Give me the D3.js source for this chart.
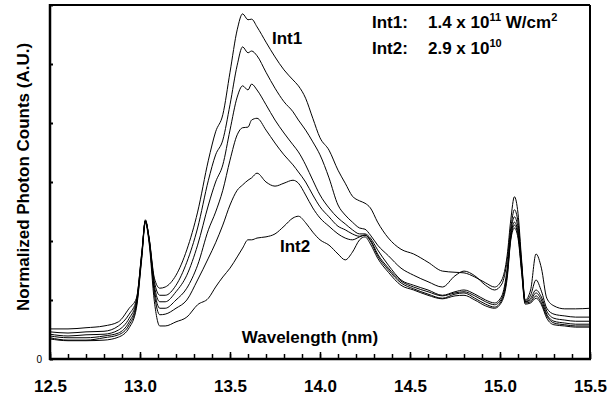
<!DOCTYPE html>
<html>
<head>
<meta charset="utf-8">
<script src="https://cdn.jsdelivr.net/npm/d3@7"></script>
<style>
  body { margin: 0; background: #fff; }
  svg text { font-family: Arial, "Liberation Sans", sans-serif; }
</style>
</head>
<body>
<div id="chart"></div>
<script>
// Wavelength grid (nm), shared by all spectra
const wavelength = [
  12.50, 12.60, 12.70, 12.80, 12.88, 12.94, 12.98, 13.01, 13.03, 13.05,
  13.08, 13.11, 13.14, 13.20, 13.26, 13.32, 13.38, 13.42, 13.46, 13.50,
  13.54, 13.57, 13.60, 13.62, 13.65, 13.70, 13.75, 13.80, 13.85, 13.88,
  13.92, 13.96, 14.00, 14.05, 14.10, 14.14, 14.18, 14.22, 14.25, 14.28,
  14.32, 14.38, 14.45, 14.52, 14.60, 14.68, 14.75, 14.80, 14.86, 14.92,
  14.97, 15.01, 15.04, 15.06, 15.08, 15.10, 15.12, 15.14, 15.17, 15.20,
  15.23, 15.26, 15.30, 15.36, 15.42, 15.50
];

// Normalized photon counts, highest intensity (Int1) to lowest (Int2)
const int1 = [
  0.51, 0.51, 0.53, 0.56, 0.63, 0.86, 1.03, 1.81, 2.36, 2.07,
  1.37, 1.20, 1.22, 1.42, 1.85, 2.49, 3.37, 3.85, 4.14, 4.86,
  5.58, 5.85, 5.75, 5.76, 5.63, 5.37, 5.12, 4.90, 4.73, 4.63,
  4.42, 4.08, 3.75, 3.54, 3.20, 2.98, 2.76, 2.68, 2.64, 2.56,
  2.32, 2.05, 1.86, 1.78, 1.64, 1.49, 1.47, 1.46, 1.39, 1.29,
  1.22, 1.34, 1.76, 2.36, 2.75, 2.47, 1.68, 1.00, 1.17, 1.78,
  1.54, 1.03, 0.90, 0.85, 0.85, 0.86
];
const level2 = [
  0.46, 0.44, 0.46, 0.47, 0.56, 0.76, 1.00, 1.80, 2.34, 2.05,
  1.31, 1.08, 1.08, 1.25, 1.64, 2.22, 3.03, 3.46, 3.71, 4.31,
  4.98, 5.29, 5.19, 5.22, 5.14, 4.86, 4.59, 4.36, 4.19, 4.05,
  3.88, 3.68, 3.46, 3.07, 2.61, 2.44, 2.32, 2.22, 2.20, 2.10,
  1.93, 1.75, 1.54, 1.42, 1.31, 1.22, 1.41, 1.49, 1.41, 1.25,
  1.17, 1.27, 1.68, 2.22, 2.53, 2.32, 1.63, 0.98, 1.08, 1.34,
  1.15, 0.86, 0.76, 0.73, 0.71, 0.71
];
const level3 = [
  0.42, 0.39, 0.41, 0.42, 0.49, 0.69, 0.97, 1.78, 2.34, 2.05,
  1.24, 0.97, 0.97, 1.14, 1.42, 1.93, 2.61, 3.00, 3.29, 3.88,
  4.44, 4.63, 4.56, 4.66, 4.56, 4.31, 4.05, 3.83, 3.63, 3.51,
  3.29, 3.03, 2.78, 2.56, 2.39, 2.29, 2.19, 2.12, 2.12, 2.05,
  1.85, 1.59, 1.34, 1.25, 1.17, 1.08, 1.14, 1.17, 1.10, 1.00,
  0.95, 1.07, 1.54, 2.15, 2.41, 2.22, 1.59, 0.97, 1.03, 1.17,
  1.05, 0.81, 0.69, 0.66, 0.64, 0.64
];
const level4 = [
  0.39, 0.36, 0.36, 0.39, 0.44, 0.63, 0.93, 1.76, 2.34, 2.03,
  1.17, 0.86, 0.86, 1.00, 1.20, 1.59, 2.19, 2.49, 2.86, 3.37,
  3.80, 3.92, 3.93, 4.05, 4.08, 3.88, 3.66, 3.46, 3.29, 3.17,
  3.00, 2.78, 2.58, 2.41, 2.25, 2.19, 2.12, 2.08, 2.10, 2.02,
  1.78, 1.54, 1.32, 1.22, 1.14, 1.07, 1.12, 1.14, 1.07, 0.97,
  0.92, 1.03, 1.47, 2.08, 2.32, 2.15, 1.54, 0.97, 1.00, 1.12,
  1.00, 0.76, 0.64, 0.61, 0.59, 0.59
];
const level5 = [
  0.36, 0.32, 0.32, 0.36, 0.41, 0.58, 0.90, 1.75, 2.34, 2.02,
  1.10, 0.75, 0.76, 0.86, 1.00, 1.34, 1.71, 1.97, 2.27, 2.61,
  2.86, 2.95, 3.03, 3.07, 3.15, 3.00, 2.93, 2.98, 3.03, 2.98,
  2.78, 2.56, 2.39, 2.25, 2.12, 2.05, 2.02, 2.07, 2.10, 2.00,
  1.75, 1.51, 1.29, 1.19, 1.10, 1.03, 1.10, 1.12, 1.03, 0.93,
  0.88, 1.00, 1.42, 2.05, 2.27, 2.10, 1.51, 0.95, 0.97, 1.07,
  0.95, 0.73, 0.61, 0.58, 0.56, 0.56
];
const int2 = [
  0.34, 0.31, 0.31, 0.32, 0.37, 0.53, 0.86, 1.71, 2.31, 1.98,
  0.97, 0.56, 0.56, 0.63, 0.71, 0.92, 1.03, 1.22, 1.39, 1.54,
  1.73, 1.88, 2.02, 2.02, 2.05, 2.07, 2.12, 2.25, 2.39, 2.42,
  2.31, 2.15, 2.02, 1.93, 1.78, 1.68, 1.81, 2.02, 2.07, 1.95,
  1.71, 1.47, 1.25, 1.17, 1.08, 1.02, 1.07, 1.08, 1.00, 0.90,
  0.86, 0.97, 1.37, 2.02, 2.22, 2.05, 1.47, 0.93, 0.95, 1.03,
  0.92, 0.69, 0.58, 0.56, 0.54, 0.54
];
const spectra = [int1, level2, level3, level4, level5, int2];

// Tick values
const majorTicks = [12.5, 13.0, 13.5, 14.0, 14.5, 15.0, 15.5];
const minorTicks = d3.range(125, 156).map(d => d / 10);
const yTicks = [0, 1, 2, 3, 4, 5, 6];

const margin = { top: 5, right: 18, bottom: 37, left: 50 };
const width = 608 - margin.left - margin.right;
const height = 396 - margin.top - margin.bottom;

const root = d3.select("#chart")
  .append("svg")
  .attr("width", 608)
  .attr("height", 396);

root.append("rect").attr("width", 608).attr("height", 396).attr("fill", "#fff");

const svg = root.append("g")
  .attr("transform", `translate(${margin.left},${margin.top})`);

const x = d3.scaleLinear().domain([12.5, 15.5]).range([0, width]);
const y = d3.scaleLinear().domain([0, 6]).range([height, 0]);

// Spectra
const line = d3.line()
  .x((d, i) => x(wavelength[i]))
  .y(d => y(d))
  .curve(d3.curveMonotoneX);

svg.selectAll(".spectrum")
  .data(spectra)
  .join("path")
  .attr("class", "spectrum")
  .attr("fill", "none")
  .attr("stroke", "#000")
  .attr("stroke-width", 1)
  .attr("d", d => line(d.slice(0, wavelength.length)));

// Minor x ticks (inside)
svg.append("g")
  .attr("transform", `translate(0,${height})`)
  .call(d3.axisBottom(x).tickValues(minorTicks).tickSize(-5).tickFormat(""))
  .call(g => g.select(".domain").remove())
  .call(g => g.selectAll("line").attr("stroke-width", 1.5));

// Major x ticks with labels
svg.append("g")
  .attr("transform", `translate(0,${height})`)
  .call(d3.axisBottom(x).tickValues(majorTicks).tickSize(-7)
    .tickPadding(21).tickFormat(d3.format(".1f")))
  .call(g => g.select(".domain").remove())
  .call(g => g.selectAll("line").attr("stroke-width", 1.5))
  .call(g => g.selectAll("text")
    .style("font-size", "17px").style("font-weight", "bold").attr("fill", "#000"));

// Y ticks (inside), only zero labelled
svg.append("g")
  .call(d3.axisLeft(y).tickValues(yTicks).tickSize(-3).tickPadding(8)
    .tickFormat(d => d === 0 ? "0" : ""))
  .call(g => g.select(".domain").remove())
  .call(g => g.selectAll("line").attr("stroke-width", 2))
  .call(g => g.selectAll("text").style("font-size", "10px").attr("fill", "#000"));

// Frame
svg.append("line").attr("x1", 0).attr("x2", width).attr("y1", 0).attr("y2", 0)
  .attr("stroke", "#000").attr("stroke-width", 2);
svg.append("line").attr("x1", width).attr("x2", width).attr("y1", 0).attr("y2", height)
  .attr("stroke", "#000").attr("stroke-width", 2);
svg.append("line").attr("x1", 0).attr("x2", 0).attr("y1", -1).attr("y2", height + 1)
  .attr("stroke", "#000").attr("stroke-width", 2.5);
svg.append("line").attr("x1", -1).attr("x2", width + 1).attr("y1", height).attr("y2", height)
  .attr("stroke", "#000").attr("stroke-width", 2.5);

// Axis titles
root.append("text")
  .attr("x", 310)
  .attr("y", 343)
  .attr("text-anchor", "middle")
  .style("font-size", "17px")
  .style("font-weight", "bold")
  .text("Wavelength (nm)");

root.append("text")
  .attr("transform", "translate(29,177) rotate(-90)")
  .attr("text-anchor", "middle")
  .style("font-size", "17px")
  .style("font-weight", "bold")
  .text("Normalized Photon Counts (A.U.)");

// Curve labels
root.append("text").attr("x", 272).attr("y", 44)
  .style("font-size", "17px").style("font-weight", "bold").text("Int1");
root.append("text").attr("x", 280).attr("y", 252)
  .style("font-size", "17px").style("font-weight", "bold").text("Int2");

// Intensity legend
const legend = root.append("g")
  .style("font-size", "17px")
  .style("font-weight", "bold");

const l1 = legend.append("text").attr("x", 372).attr("y", 28);
l1.append("tspan").text("Int1:");
l1.append("tspan").attr("x", 428).text("1.4 x 10");
l1.append("tspan").attr("dy", -7).style("font-size", "11px").text("11");
l1.append("tspan").attr("dy", 7).text(" W/cm");
l1.append("tspan").attr("dy", -7).style("font-size", "11px").text("2");

const l2 = legend.append("text").attr("x", 372).attr("y", 54);
l2.append("tspan").text("Int2:");
l2.append("tspan").attr("x", 428).text("2.9 x 10");
l2.append("tspan").attr("dy", -7).style("font-size", "11px").text("10");
</script>
</body>
</html>
